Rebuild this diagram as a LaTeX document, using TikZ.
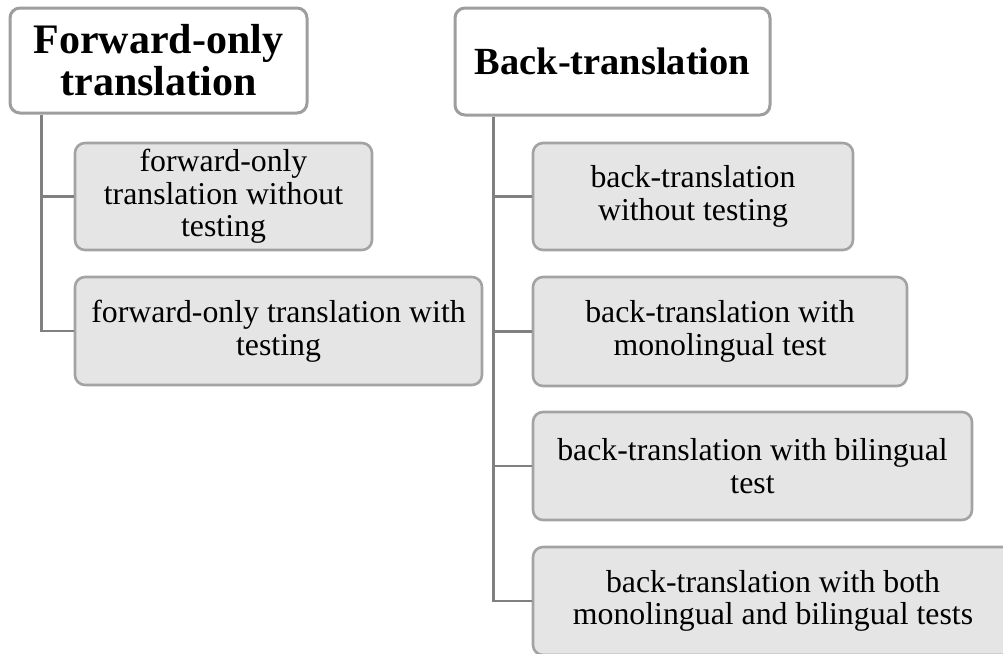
\documentclass[tikz,border=0pt]{standalone}
\usepackage{fontspec}
\setmainfont{Liberation Serif}
\begin{document}
\begin{tikzpicture}[x=1pt,y=-1pt,
  titlebox/.style={draw=black!38, line width=3pt, rounded corners=10pt, fill=white,
    inner sep=0pt, align=center, font=\bfseries},
  childbox/.style={draw=black!36, line width=2.6pt, rounded corners=10pt, fill=black!10,
    inner sep=0pt, align=center, font=\fontsize{31.8}{32.5}\selectfont},
  conn/.style={draw=black!50, line width=2.6pt}]
\useasboundingbox (0,0) rectangle (1003,653);
% titles
\node[titlebox, font=\fontsize{42}{42}\selectfont\bfseries, minimum width=297pt, minimum height=105pt] (A) at (158.5,60.5) {Forward-only\\translation};
\node[titlebox, font=\fontsize{38.4}{42}\selectfont\bfseries, minimum width=315pt, minimum height=107pt] (B) at (612.5,61.5) {Back-translation};
% children of A
\node[childbox, minimum width=297pt, minimum height=107pt] (A1) at (223.5,196.5) {forward-only\\translation without\\testing};
\node[childbox, minimum width=407pt, minimum height=108pt] (A2) at (278.5,331) {forward-only translation with\\testing};
% children of B
\node[childbox, minimum width=320pt, minimum height=107pt] (B1) at (693,196.5) {back-translation\\without testing};
\node[childbox, minimum width=374pt, minimum height=109pt] (B2) at (720,331.5) {back-translation with\\monolingual test};
\node[childbox, minimum width=439pt, minimum height=108pt] (B3) at (752.5,466) {back-translation with bilingual\\test};
\node[childbox, minimum width=480pt, minimum height=108pt] (B4) at (773,601) {back-translation with both\\monolingual and bilingual tests};
% connectors
\draw[conn] (A.south west) ++(33,0) |- (A2.west);
\draw[conn] (A.south west) ++(33,0) |- (A1.west);
\draw[conn] (B.south west) ++(40,0) |- (B4.west);
\draw[conn] (B.south west) ++(40,0) |- (B1.west);
\draw[conn] (B.south west) ++(40,0) |- (B2.west);
\draw[conn] (B.south west) ++(40,0) |- (B3.west);
\end{tikzpicture}
\end{document}
